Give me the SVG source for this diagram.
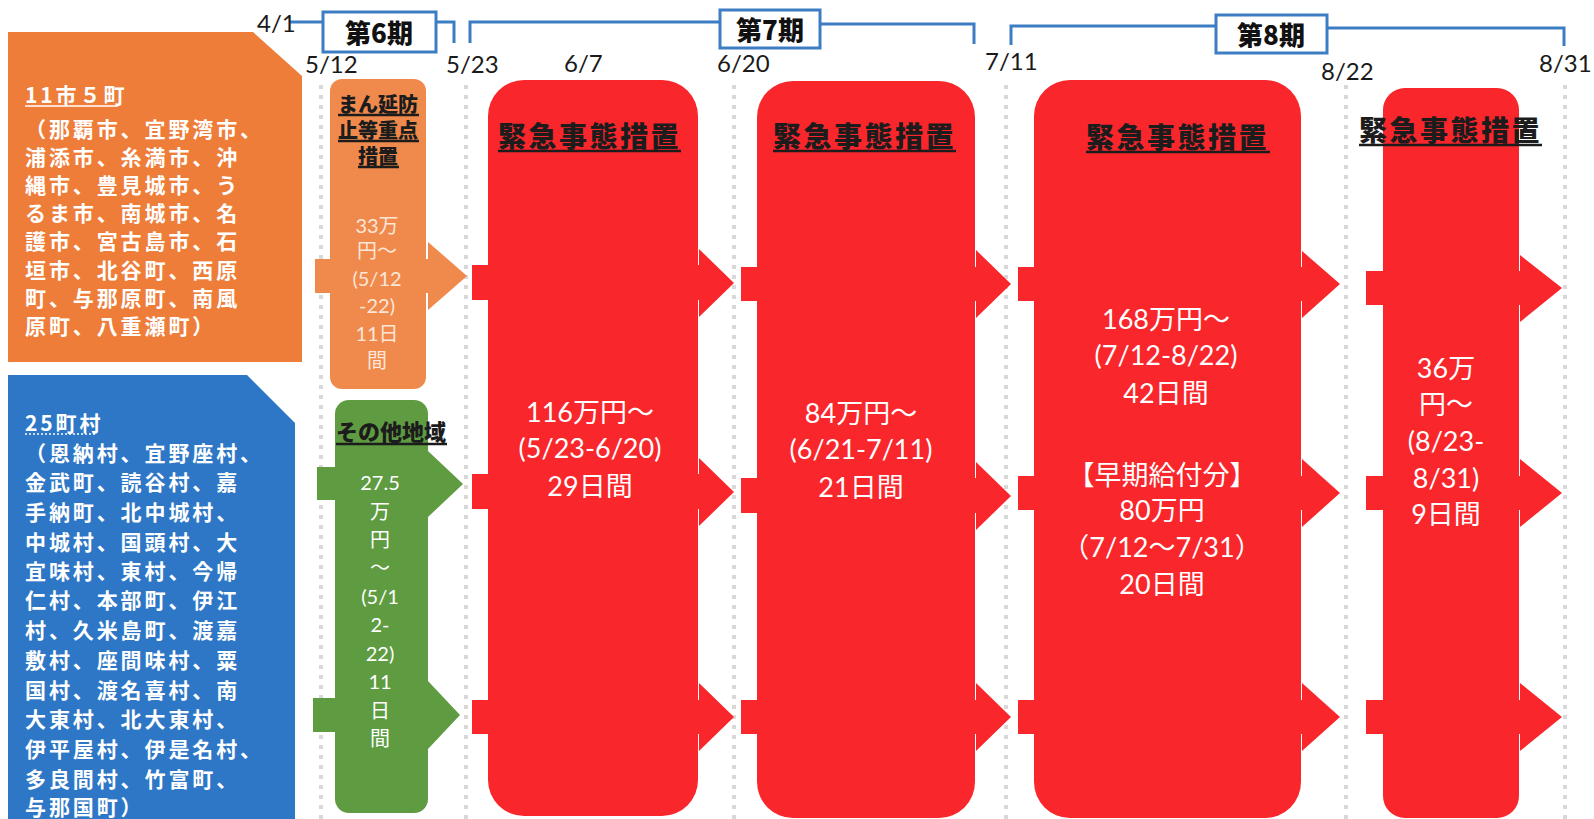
<svg xmlns="http://www.w3.org/2000/svg" width="1594" height="819" viewBox="0 0 1594 819">
<style>
.lp{font-family:"Noto Sans CJK JP",sans-serif;font-size:21px;font-weight:700;fill:#fff;letter-spacing:2.9px}
.dt{font-family:Lato,"Noto Sans CJK JP",sans-serif;font-size:24px;fill:#1a1a1a}
.ph{font-family:"Noto Sans CJK JP",sans-serif;font-size:26px;font-weight:900;fill:#111;text-anchor:middle}
.hd{font-family:"Noto Sans CJK JP",sans-serif;font-size:28px;font-weight:900;fill:#1c1c1c;letter-spacing:2.5px}
.bd{font-family:Lato,"Noto Sans CJK JP",sans-serif;font-size:27px;fill:#fff;text-anchor:middle}
.gt{font-family:Lato,"Noto Sans CJK JP",sans-serif;font-size:20px;fill:#fff;text-anchor:middle}
.sm{font-family:Lato,"Noto Sans CJK JP",sans-serif;font-size:20px;fill:#fbe6d8;text-anchor:middle}
.st{font-family:"Noto Sans CJK JP",sans-serif;font-size:20px;font-weight:900;fill:#1c1c1c;text-anchor:middle}
.red{fill:#F9262C}
.org{fill:#F08A4C}
.grn{fill:#5E9B41}
.tl{fill:none;stroke:#3C7DC4;stroke-width:3}
.bx{fill:#fff;stroke:#3C7DC4;stroke-width:3}
.dot{stroke:#d8d8d8;stroke-width:4;stroke-dasharray:4 6}
.ul{stroke:#1c1c1c;stroke-width:2.5}
.wl{stroke:#fff;stroke-width:1.5}
</style>

<g id="grid">
<line class="dot" x1="321" y1="85" x2="321" y2="819"/>
<line class="dot" x1="466" y1="85" x2="466" y2="819"/>
<line class="dot" x1="734" y1="85" x2="734" y2="819"/>
<line class="dot" x1="1006" y1="85" x2="1006" y2="819"/>
<line class="dot" x1="1346" y1="85" x2="1346" y2="819"/>
<line class="dot" x1="1565" y1="85" x2="1565" y2="819"/>
</g>

<g id="timeline">
<path class="tl" d="M290,22 H323 M436,22 H454 V43"/>
<path class="tl" d="M470,43 V22 H720 M820,24 H974 V44"/>
<path class="tl" d="M1011,45 V26 H1216 M1327,28 H1564 V46"/>
<g id="period6"><rect class="bx" x="323" y="12" width="113" height="40"/><text class="ph" x="379" y="43">第6期</text></g>
<g id="period7"><rect class="bx" x="720" y="10" width="100" height="38"/><text class="ph" x="770" y="40">第7期</text></g>
<g id="period8"><rect class="bx" x="1216" y="15" width="111" height="38"/><text class="ph" x="1271" y="45">第8期</text></g>
<text class="dt" x="257" y="32">4/1</text>
<text class="dt" x="305" y="73">5/12</text>
<text class="dt" x="446" y="73">5/23</text>
<text class="dt" x="564" y="72">6/7</text>
<text class="dt" x="717" y="72">6/20</text>
<text class="dt" x="985" y="70">7/11</text>
<text class="dt" x="1321" y="80">8/22</text>
<text class="dt" x="1539" y="72">8/31</text>
</g>

<g id="connectors">
<polygon class="org" points="315,259 428,259 428,242 467,276 428,310 428,293 315,293"/>
<polygon class="grn" points="317,467 428,467 428,451 463,484 428,517 428,500 317,500"/>
<polygon class="grn" points="313,698 428,698 428,681 460,715 428,749 428,732 313,732"/>
<polygon class="red" points="472,265 699,265 699,249 734,283 699,317 699,300 472,300"/>
<polygon class="red" points="472,474 699,474 699,458 734,492 699,526 699,509 472,509"/>
<polygon class="red" points="472,700 699,700 699,683 734,717 699,751 699,734 472,734"/>
<polygon class="red" points="741,267 976,267 976,250 1011,284 976,318 976,301 741,301"/>
<polygon class="red" points="741,478 976,478 976,462 1011,496 976,530 976,513 741,513"/>
<polygon class="red" points="741,700 976,700 976,683 1011,717 976,751 976,734 741,734"/>
<polygon class="red" points="1018,267 1302,267 1302,251 1340,284 1302,318 1302,301 1018,301"/>
<polygon class="red" points="1018,476 1302,476 1302,459 1340,493 1302,527 1302,510 1018,510"/>
<polygon class="red" points="1018,700 1302,700 1302,683 1340,717 1302,751 1302,734 1018,734"/>
<polygon class="red" points="1366,271 1520,271 1520,255 1562,288 1520,322 1520,305 1366,305"/>
<polygon class="red" points="1366,476 1520,476 1520,459 1562,493 1520,527 1520,510 1366,510"/>
<polygon class="red" points="1366,700 1520,700 1520,683 1562,717 1520,751 1520,734 1366,734"/>
</g>

<g id="region11">
<polygon points="8,32 253,32 302,76 302,362 8,362" fill="#EE7D3A"/>
<text class="lp" x="25" y="103">11市５町</text>
<line class="wl" x1="25" y1="106" x2="118" y2="106"/>
<text class="lp"><tspan x="25" y="137">（那覇市、宜野湾市、</tspan><tspan x="25" y="165">浦添市、糸満市、沖</tspan><tspan x="25" y="193">縄市、豊見城市、う</tspan><tspan x="25" y="221">るま市、南城市、名</tspan><tspan x="25" y="249">護市、宮古島市、石</tspan><tspan x="25" y="278">垣市、北谷町、西原</tspan><tspan x="25" y="306">町、与那原町、南風</tspan><tspan x="25" y="334">原町、八重瀬町）</tspan></text>
</g>

<g id="region25">
<polygon points="8,375 247,375 295,423 295,819 8,819" fill="#2E77C6"/>
<text class="lp" x="25" y="431">25町村</text>
<line class="wl" x1="25" y1="434" x2="97" y2="434" stroke-dasharray="2 2"/>
<text class="lp"><tspan x="25" y="461">（恩納村、宜野座村、</tspan><tspan x="25" y="490">金武町、読谷村、嘉</tspan><tspan x="25" y="520">手納町、北中城村、</tspan><tspan x="25" y="550">中城村、国頭村、大</tspan><tspan x="25" y="579">宜味村、東村、今帰</tspan><tspan x="25" y="608">仁村、本部町、伊江</tspan><tspan x="25" y="638">村、久米島町、渡嘉</tspan><tspan x="25" y="668">敷村、座間味村、粟</tspan><tspan x="25" y="698">国村、渡名喜村、南</tspan><tspan x="25" y="727">大東村、北大東村、</tspan><tspan x="25" y="757">伊平屋村、伊是名村、</tspan><tspan x="25" y="787">多良間村、竹富町、</tspan><tspan x="25" y="815">与那国町）</tspan></text>
</g>

<g id="p6-manen">
<rect class="org" x="330" y="79" width="96" height="310" rx="12"/>
<text class="st"><tspan x="378" y="112">まん延防</tspan><tspan x="378" y="138">止等重点</tspan><tspan x="378" y="164">措置</tspan></text>
<line class="ul" x1="338" y1="115" x2="419" y2="115"/>
<line class="ul" x1="338" y1="141" x2="419" y2="141"/>
<line class="ul" x1="358" y1="167" x2="399" y2="167"/>
<text class="sm"><tspan x="377" y="233">33万</tspan><tspan x="377" y="258">円～</tspan><tspan x="377" y="286">(5/12</tspan><tspan x="377" y="313">-22)</tspan><tspan x="377" y="341">11日</tspan><tspan x="377" y="368">間</tspan></text>
</g>

<g id="p6-other">
<rect class="grn" x="335" y="400" width="93" height="413" rx="14"/>
<text class="st" x="391" y="440" style="font-size:22px">その他地域</text>
<line class="ul" x1="336" y1="444" x2="447" y2="444"/>
<text class="gt"><tspan x="380" y="490">27.5</tspan><tspan x="380" y="519">万</tspan><tspan x="380" y="547">円</tspan><tspan x="380" y="575">～</tspan><tspan x="380" y="604">(5/1</tspan><tspan x="380" y="632">2-</tspan><tspan x="380" y="661">22)</tspan><tspan x="380" y="689">11</tspan><tspan x="380" y="718">日</tspan><tspan x="380" y="746">間</tspan></text>
</g>

<g id="p7a">
<rect class="red" x="488" y="80" width="210" height="736" rx="36"/>
<text class="hd" x="498" y="147">緊急事態措置</text>
<line class="ul" x1="498" y1="151" x2="681" y2="151"/>
<text class="bd"><tspan x="590" y="422">116万円～</tspan><tspan x="590" y="458">(5/23-6/20)</tspan><tspan x="590" y="496">29日間</tspan></text>
</g>

<g id="p7b">
<rect class="red" x="757" y="81" width="218" height="737" rx="36"/>
<text class="hd" x="773" y="147">緊急事態措置</text>
<line class="ul" x1="773" y1="151" x2="956" y2="151"/>
<text class="bd"><tspan x="861" y="423">84万円～</tspan><tspan x="861" y="459">(6/21-7/11)</tspan><tspan x="861" y="497">21日間</tspan></text>
</g>

<g id="p8a">
<rect class="red" x="1034" y="80" width="267" height="738" rx="36"/>
<text class="hd" x="1086" y="148">緊急事態措置</text>
<line class="ul" x1="1086" y1="152" x2="1270" y2="152"/>
<text class="bd"><tspan x="1166" y="329">168万円～</tspan><tspan x="1166" y="365">(7/12-8/22)</tspan><tspan x="1166" y="403">42日間</tspan></text>
<text class="bd"><tspan x="1162" y="485">【早期給付分】</tspan><tspan x="1162" y="520">80万円</tspan><tspan x="1162" y="557">（7/12～7/31）</tspan><tspan x="1162" y="594">20日間</tspan></text>
</g>

<g id="p8b">
<rect class="red" x="1383" y="88" width="136" height="730" rx="22"/>
<text class="hd" x="1359" y="141">緊急事態措置</text>
<line class="ul" x1="1359" y1="145" x2="1542" y2="145"/>
<text class="bd"><tspan x="1446" y="378">36万</tspan><tspan x="1446" y="414">円～</tspan><tspan x="1446" y="451">(8/23-</tspan><tspan x="1446" y="488">8/31)</tspan><tspan x="1446" y="524">9日間</tspan></text>
</g>
</svg>
